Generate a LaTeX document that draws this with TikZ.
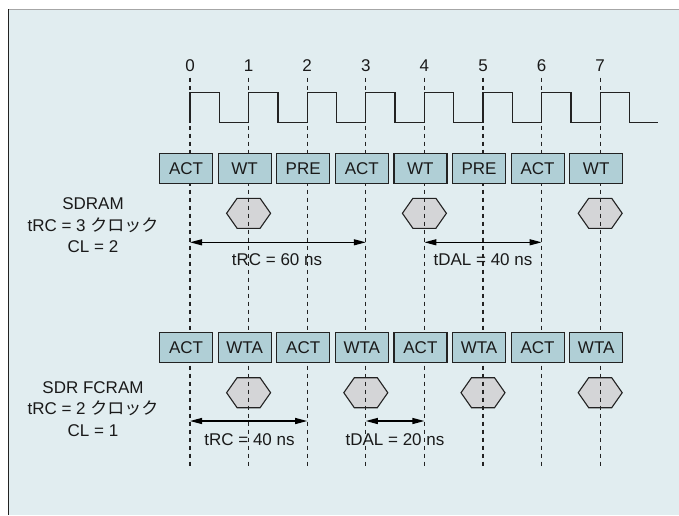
\documentclass[tikz,border=0pt]{standalone}
\usepackage{fontspec}
\setmainfont{Liberation Sans}
\newfontfamily\cjk{Noto Sans CJK JP}
\usetikzlibrary{arrows.meta,shapes.symbols}
\definecolor{bgcol}{HTML}{E1EDF0}
\definecolor{boxcol}{HTML}{B0CFD6}
\definecolor{hexcol}{HTML}{D4D5D7}
\definecolor{linecol}{HTML}{222222}
\definecolor{txtcol}{HTML}{1A1A1A}
\begin{document}
\begin{tikzpicture}[x=1pt,y=-1pt,
  lbl/.style={font=\fontsize{17}{21.5}\selectfont, inner sep=0pt, text=txtcol},
  cmd/.style={draw=linecol, line width=1.2pt, fill=boxcol, minimum width=53pt, minimum height=30pt, inner sep=0pt, text=txtcol, font=\fontsize{17}{21}\selectfont},
  hexa/.style={shape=signal, signal to=east and west, signal pointer angle=110, draw=linecol, line width=1.1pt, fill=hexcol, minimum width=44pt, minimum height=30pt, inner sep=0pt},
  tickline/.style={draw=linecol, line width=1.3pt, dash pattern=on 4pt off 4pt},
  dimarrow/.style={draw=black, line width=1.2pt, {Triangle[length=12pt,width=6pt]}-{Triangle[length=12pt,width=6pt]}},
  clk/.style={draw=linecol, line width=1.3pt}]
\useasboundingbox (0,0) rectangle (679,515);
\fill[white] (0,0) rectangle (679,515);
\fill[bgcol] (8,9) rectangle (679,515);
\draw[gray!70, line width=1pt] (8,9) -- (679,9);
\draw[linecol, line width=1pt] (8,9) -- (8,515);

% hexagons (under the dashed lines)
\foreach \c in {1,4,7} \node[hexa] (h1x\c) at (190+58.6*\c,213.3) {};
\foreach \c in {1,3,5,7} \node[hexa] (h2x\c) at (190+58.6*\c,392.7) {};

% clock numbers and dashed tick lines
\foreach \i in {0,...,7} {
  \node[lbl] (n\i) at (190+58.6*\i,65.5) {\i};
  \coordinate (t\i) at (190+58.6*\i,77.7);
  \coordinate (e\i) at (190+58.6*\i,468);
  \draw[tickline] (t\i) -- (e\i);
}

% clock
\draw[clk] (190,122.7) \foreach \i in {0,...,7} { -- (190+58.6*\i,122.7) -- (190+58.6*\i,92.7) -- (219.3+58.6*\i,92.7) -- (219.3+58.6*\i,122.7)} -- (658.3,122.7);

% command boxes
\foreach \lab [count=\i from 0] in {ACT,WT,PRE,ACT,WT,PRE,ACT,WT}
  \node[cmd] (ra\i) at (186+58.6*\i,168.3) {\lab};
\foreach \lab [count=\i from 0] in {ACT,WTA,ACT,WTA,ACT,WTA,ACT,WTA}
  \node[cmd] (rb\i) at (186+58.6*\i,347.5) {\lab};

% dimension arrows
\coordinate (a1l) at (190,242.3);   \coordinate (a1r) at (365.8,242.3);
\coordinate (a2l) at (424.4,242.3); \coordinate (a2r) at (541.6,242.3);
\coordinate (b1l) at (190,421);     \coordinate (b1r) at (307.2,421);
\coordinate (b2l) at (365.8,421);   \coordinate (b2r) at (424.4,421);
\draw[dimarrow] (a1l) -- (a1r);
\draw[dimarrow] (a2l) -- (a2r);
\draw[dimarrow] (b1l) -- (b1r);
\draw[dimarrow] (b2l) -- (b2r);

\node[lbl] (la1) at (277,260) {tRC = 60 ns};
\node[lbl] (la2) at (483,260) {tDAL = 40 ns};
\node[lbl] (lb1) at (249.5,440) {tRC = 40 ns};
\node[lbl] (lb2) at (395,440) {tDAL = 20 ns};

% left labels
\node[lbl, align=center] (sd) at (93,225.5) {SDRAM\\tRC = 3 {\cjk クロック}\\CL = 2};
\node[lbl, align=center] (fc) at (93,409) {SDR FCRAM\\tRC = 2 {\cjk クロック}\\CL = 1};
\end{tikzpicture}
\end{document}
